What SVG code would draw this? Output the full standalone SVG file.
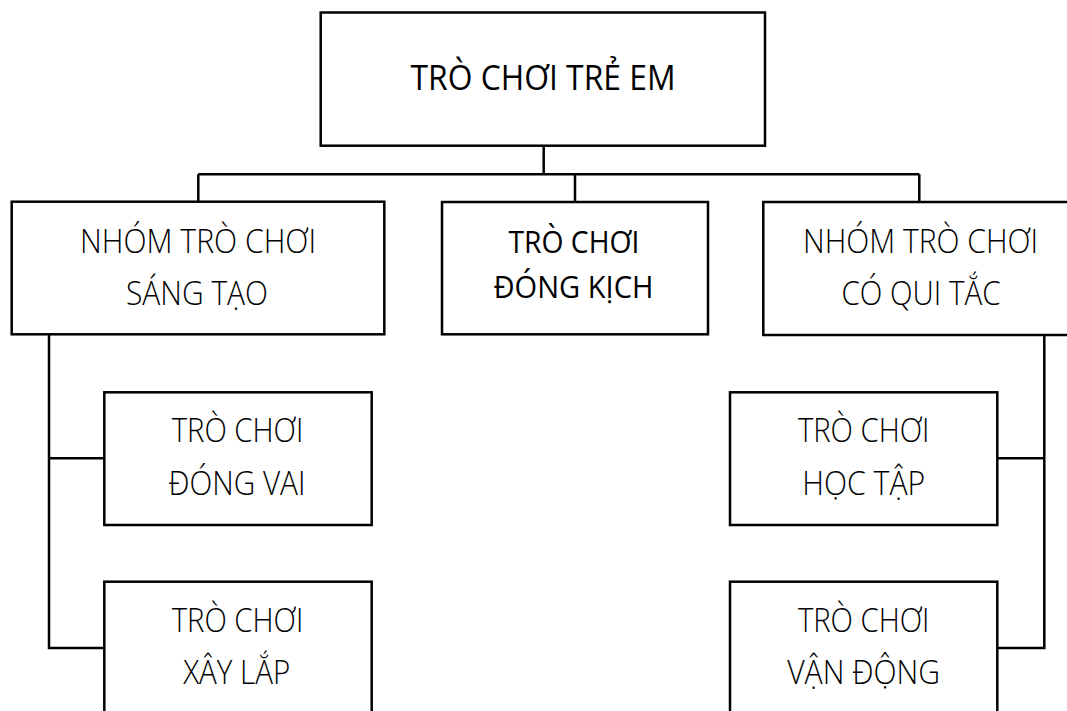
<svg xmlns="http://www.w3.org/2000/svg" width="1067" height="711" viewBox="0 0 1067 711">
<style>
.box{fill:#fff;stroke:#000;stroke-width:2.5}
.con{fill:none;stroke:#000;stroke-width:2.5}
.t{font-family:"Open Sans","Noto Sans","DejaVu Sans",sans-serif;text-anchor:middle;fill:#000}
.lt{font-size:32.5px;font-weight:300}
.rg{font-weight:400}
</style>
<rect width="1067" height="711" fill="#fff"/>
<g id="connectors">
<path class="con" d="M543.7,146 V174.3 M198.3,174.3 H919.3 M198.3,174.3 V201.7 M575,174.3 V202 M919.3,174.3 V202"/>
<path class="con" d="M49,334.3 V648 H104.3 M49,458.3 H104.3"/>
<path class="con" d="M1044.3,335 V648 H997.3 M1044.3,458.3 H997.3"/>
</g>
<g id="root">
<rect class="box" x="320.7" y="12.5" width="444.3" height="133.2"/>
<text class="t rg" x="543" y="89.5" font-size="35" textLength="265" lengthAdjust="spacingAndGlyphs">TRÒ CHƠI TRẺ EM</text>
</g>
<g id="sangtao">
<rect class="box" x="11.7" y="201.7" width="372.6" height="132.6"/>
<text class="t lt" x="198" y="253" textLength="236" lengthAdjust="spacingAndGlyphs">NHÓM TRÒ CHƠI</text>
<text class="t lt" x="197" y="305" textLength="142" lengthAdjust="spacingAndGlyphs">SÁNG TẠO</text>
</g>
<g id="dongkich">
<rect class="box" x="442" y="202" width="266" height="132.3"/>
<text class="t rg" x="574" y="253.3" font-size="31.5" textLength="131" lengthAdjust="spacingAndGlyphs">TRÒ CHƠI</text>
<text class="t rg" x="573.5" y="298" font-size="31.5" textLength="160" lengthAdjust="spacingAndGlyphs">ĐÓNG KỊCH</text>
</g>
<g id="quitac">
<rect class="box" x="763.3" y="202" width="320" height="133"/>
<text class="t lt" x="920.5" y="253" textLength="235" lengthAdjust="spacingAndGlyphs">NHÓM TRÒ CHƠI</text>
<text class="t lt" x="921" y="305" textLength="159" lengthAdjust="spacingAndGlyphs">CÓ QUI TẮC</text>
</g>
<g id="dongvai">
<rect class="box" x="104.3" y="392.3" width="267.4" height="132.7"/>
<text class="t lt" x="237.5" y="442" textLength="131.6" lengthAdjust="spacingAndGlyphs">TRÒ CHƠI</text>
<text class="t lt" x="237" y="495" textLength="137" lengthAdjust="spacingAndGlyphs">ĐÓNG VAI</text>
</g>
<g id="xaylap">
<rect class="box" x="104.3" y="581.7" width="267.4" height="200"/>
<text class="t lt" x="237.5" y="632" textLength="131.6" lengthAdjust="spacingAndGlyphs">TRÒ CHƠI</text>
<text class="t lt" x="236.7" y="684" textLength="107" lengthAdjust="spacingAndGlyphs">XÂY LẮP</text>
</g>
<g id="hoctap">
<rect class="box" x="730" y="392.3" width="267.3" height="132.7"/>
<text class="t lt" x="863.7" y="442" textLength="131.6" lengthAdjust="spacingAndGlyphs">TRÒ CHƠI</text>
<text class="t lt" x="863.7" y="495" textLength="123" lengthAdjust="spacingAndGlyphs">HỌC TẬP</text>
</g>
<g id="vandong">
<rect class="box" x="730" y="581.7" width="267.3" height="200"/>
<text class="t lt" x="863.7" y="632" textLength="131.6" lengthAdjust="spacingAndGlyphs">TRÒ CHƠI</text>
<text class="t lt" x="863.7" y="684" textLength="153" lengthAdjust="spacingAndGlyphs">VẬN ĐỘNG</text>
</g>
</svg>
